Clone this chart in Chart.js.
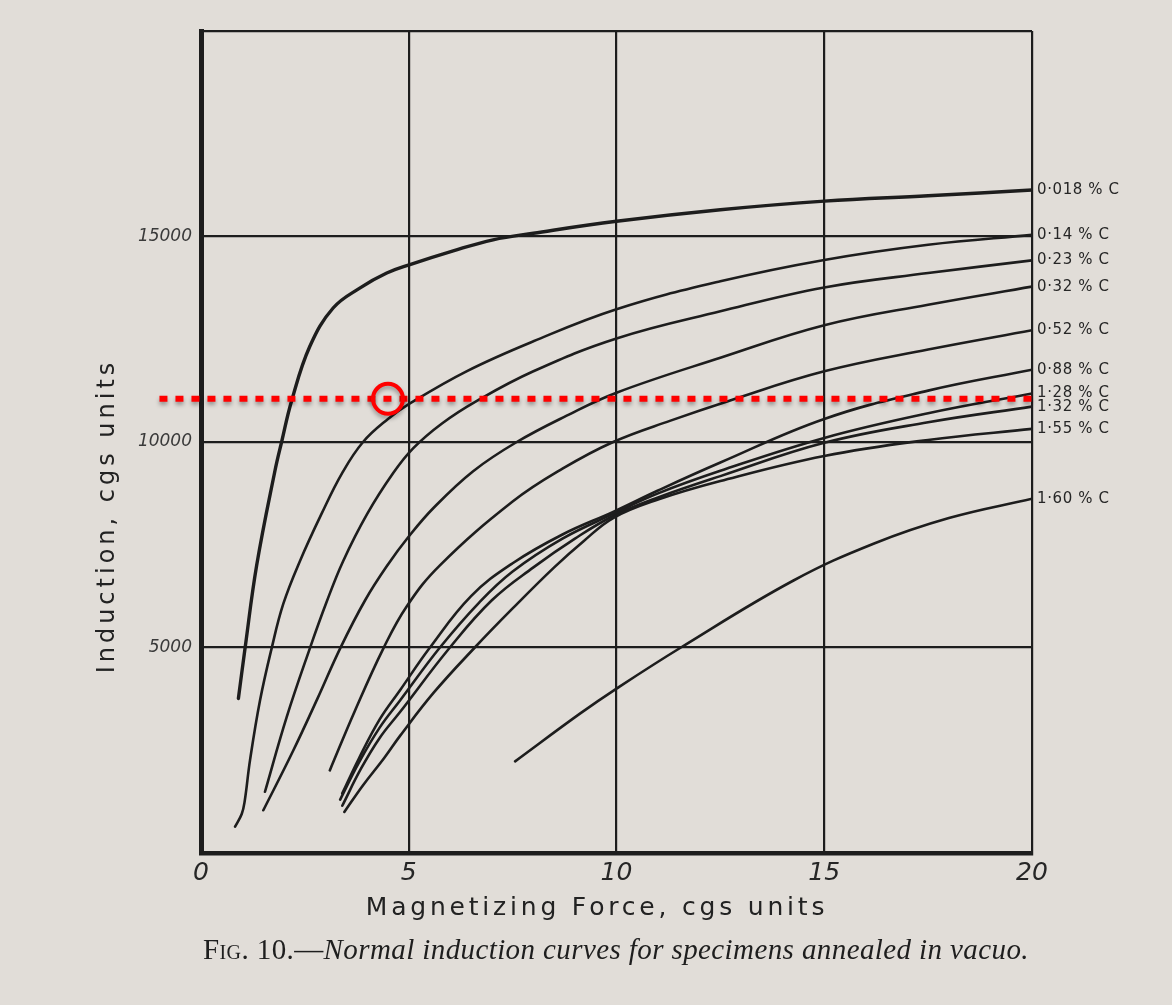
<!DOCTYPE html>
<html>
<head>
<meta charset="utf-8">
<script src="https://cdn.jsdelivr.net/npm/chart.js@4.4.1/dist/chart.umd.min.js"></script>
<style>
  html, body { margin: 0; padding: 0; background: #e1ddd8; }
  #wrap { position: relative; width: 1172px; height: 1005px; overflow: hidden; }
  #c { position: absolute; left: 0; top: 0; }
  #caption {
    position: absolute; left: 150px; width: 932px; top: 933px;
    text-align: center; font-family: 'Liberation Serif', 'DejaVu Serif', serif;
    font-size: 29px; letter-spacing: 0.4px; color: #1e1e1e; white-space: nowrap;
  }
  #caption .sc { font-variant: small-caps; }
</style>
</head>
<body>
<div id="wrap">
  <canvas id="c" width="1172" height="1005"></canvas>
  <div id="caption"><span class="sc">Fig. 10.</span>—<i>Normal induction curves for specimens annealed in vacuo.</i></div>
</div>
<script>
// Axis ticks
const forceTicks = [0, 5, 10, 15, 20];
const inductionTicks = [5000, 10000, 15000];

// Carbon content of each specimen, in the order of the curves below
const carbonLabels = ['0·018 % C', '0·14 % C', '0·23 % C', '0·32 % C', '0·52 % C',
                      '0·88 % C', '1·28 % C', '1·32 % C', '1·55 % C', '1·60 % C'];

// Normal induction curves: [magnetizing force H, induction B]
const c0018 = [[0.90,3760],[1.06,4980],[1.34,7000],[1.78,9300],[1.94,10000],[2.18,11000],[2.62,12330],
               [3.18,13260],[3.83,13750],[4.47,14110],[5.01,14310],[6.07,14650],[7.03,14920],[8.0,15080],
               [10,15370],[12.5,15650],[15,15860],[17.5,15990],[20,16130]];
const c014  = [[0.82,640],[0.98,950],[1.05,1250],[1.18,2260],[1.42,3710],[1.70,4980],[1.98,6060],[2.38,7100],
               [2.9,8250],[3.4,9250],[3.9,10000],[4.5,10560],[5,10920],[6.39,11720],[8,12450],[10,13230],
               [12.5,13910],[15,14430],[17.5,14800],[20,15040]];
const c023  = [[1.54,1490],[2.06,3300],[2.62,4980],[3.02,6100],[3.42,7100],[4.0,8250],[4.63,9250],[5.11,9850],
               [5.8,10450],[6.64,11000],[8,11720],[10,12520],[12.5,13180],[15,13760],[17.5,14110],[20,14420]];
const c032  = [[1.50,1040],[2.2,2450],[2.8,3750],[3.35,4980],[3.95,6150],[4.5,7020],[5.0,7700],[5.6,8400],
               [6.55,9290],[7.6,10000],[8.8,10640],[10,11200],[12.5,12050],[15,12840],[17.5,13340],[20,13780]];
const c052  = [[3.1,2010],[3.7,3450],[4.39,4980],[4.95,6000],[5.75,7000],[7.5,8550],[8.7,9350],[9.92,10000],
               [11.3,10520],[12.7,11000],[15,11720],[17.5,12250],[20,12720]];
const c088  = [[3.40,1450],[3.8,2300],[4.3,3250],[4.79,3960],[5.51,5000],[6.5,6250],[7.5,7050],[8.7,7750],
               [9.92,8300],[11,8820],[12.5,9500],[15,10560],[17.5,11250],[20,11760]];
const c128  = [[3.35,1300],[3.8,2200],[4.3,3050],[4.79,3710],[5.75,5000],[6.7,6100],[7.5,6850],[8.7,7650],
               [9.92,8250],[11,8750],[12.5,9300],[15,10100],[17.5,10700],[20,11180]];
const c132  = [[3.40,1150],[3.85,2050],[4.3,2800],[4.79,3430],[5.99,5000],[7,6150],[8,6950],[9.0,7650],
               [9.92,8200],[11,8650],[12.5,9170],[15,9980],[17.5,10480],[20,10860]];
const c155  = [[3.45,1000],[3.9,1650],[4.4,2300],[4.79,2850],[5.6,3900],[6.59,5000],[7.5,5950],[8.5,6950],
               [9.2,7580],[9.92,8150],[11,8600],[12.5,9050],[15,9660],[17.5,10050],[20,10320]];
const c160  = [[7.56,2230],[9.12,3390],[10,4000],[11.55,5000],[14.26,6630],[16.2,7530],[18,8150],[20,8620]];

const curves = [c0018, c014, c023, c032, c052, c088, c128, c132, c155, c160];

// Reference level drawn in red across the chart, and the point ringed on it
const markerInduction = 11050;
const markerForce = 4.5;
const markerLineStart = -1;

const ink = '#1d1d1d';

const datasets = curves.map((pts, i) => ({
  label: carbonLabels[i],
  data: pts.map(([x, y]) => ({ x, y })),
  borderColor: ink,
  borderWidth: i === 0 ? 3.4 : 2.6,
  pointRadius: 0,
  fill: false,
  tension: 0.4,
  borderCapStyle: 'round',
  borderJoinStyle: 'round'
}));

// Carbon labels just outside the right edge, level with each curve's end
const endLabels = {
  id: 'endLabels',
  afterDatasetsDraw(chart) {
    const { ctx, chartArea } = chart;
    ctx.save();
    ctx.font = '15px "DejaVu Sans", sans-serif';
    ctx.letterSpacing = '0.6px';
    ctx.fillStyle = '#262626';
    ctx.textAlign = 'left';
    ctx.textBaseline = 'middle';
    chart.data.datasets.forEach((ds, i) => {
      const pts = chart.getDatasetMeta(i).data;
      const last = pts[pts.length - 1];
      ctx.fillText(ds.label, chartArea.right + 5, last.y);
    });
    ctx.restore();
  }
};

// Axis titles, lettered freely beside the frame
const axisTitles = {
  id: 'axisTitles',
  afterDraw(chart) {
    const { ctx, chartArea } = chart;
    ctx.save();
    ctx.fillStyle = '#222';
    ctx.textAlign = 'center';
    ctx.textBaseline = 'middle';
    ctx.font = '25px "DejaVu Sans", sans-serif';
    ctx.letterSpacing = '3.8px';
    ctx.fillText('Magnetizing Force, cgs units', chartArea.left + 396, chartArea.bottom + 55);
    ctx.translate(chartArea.left - 93, chartArea.top + 485);
    ctx.rotate(-Math.PI / 2);
    ctx.font = '24px "DejaVu Sans", sans-serif';
    ctx.letterSpacing = '4px';
    ctx.fillText('Induction, cgs units', 0, 0);
    ctx.restore();
  }
};

// Red dotted reference level and the ring marking the point of interest
const marker = {
  id: 'marker',
  afterDraw(chart) {
    const { ctx, chartArea, scales } = chart;
    const y = scales.y.getPixelForValue(markerInduction);
    const x0 = scales.x.getPixelForValue(markerLineStart);
    const cx = scales.x.getPixelForValue(markerForce);
    ctx.save();
    ctx.shadowColor = 'rgba(0,0,0,0.35)';
    ctx.shadowBlur = 4;
    ctx.shadowOffsetY = 3;
    ctx.strokeStyle = '#ff0000';
    ctx.lineWidth = 6;
    ctx.setLineDash([8, 8]);
    ctx.beginPath();
    ctx.moveTo(x0, y);
    ctx.lineTo(chartArea.right, y);
    ctx.stroke();
    ctx.setLineDash([]);
    ctx.lineWidth = 4;
    ctx.beginPath();
    ctx.arc(cx, y, 15, 0, Math.PI * 2);
    ctx.stroke();
    ctx.restore();
  }
};

new Chart(document.getElementById('c'), {
  type: 'line',
  data: { datasets },
  options: {
    responsive: false,
    animation: false,
    events: [],
    layout: { padding: { left: 0, top: 31, right: 140, bottom: 102 } },
    scales: {
      x: {
        type: 'linear',
        min: forceTicks[0],
        max: forceTicks[forceTicks.length - 1],
        afterBuildTicks(scale) { scale.ticks = forceTicks.map(v => ({ value: v })); },
        afterFit(scale) { scale.height = 50; },
        ticks: {
          padding: 5,
          color: '#262626',
          font: { family: '"DejaVu Sans", sans-serif', size: 25, style: 'italic' }
        },
        grid: { color: ink, lineWidth: 2.2, drawTicks: false },
        border: { color: ink, width: 4.5 }
      },
      y: {
        type: 'linear',
        min: 0,
        max: 20000,
        afterBuildTicks(scale) {
          scale.ticks = [0, ...inductionTicks, 20000].map(v => ({ value: v }));
        },
        afterFit(scale) { scale.width = 201; },
        ticks: {
          padding: 9,
          color: '#3a3a3a',
          font: { family: '"DejaVu Sans", sans-serif', size: 17, style: 'italic' },
          callback: v => inductionTicks.includes(v) ? String(v) : ''
        },
        grid: { color: ink, lineWidth: 2.2, drawTicks: false },
        border: { color: ink, width: 5 }
      }
    },
    plugins: {
      legend: { display: false },
      tooltip: { enabled: false },
      title: { display: false }
    }
  },
  plugins: [endLabels, axisTitles, marker]
});
</script>
</body>
</html>
